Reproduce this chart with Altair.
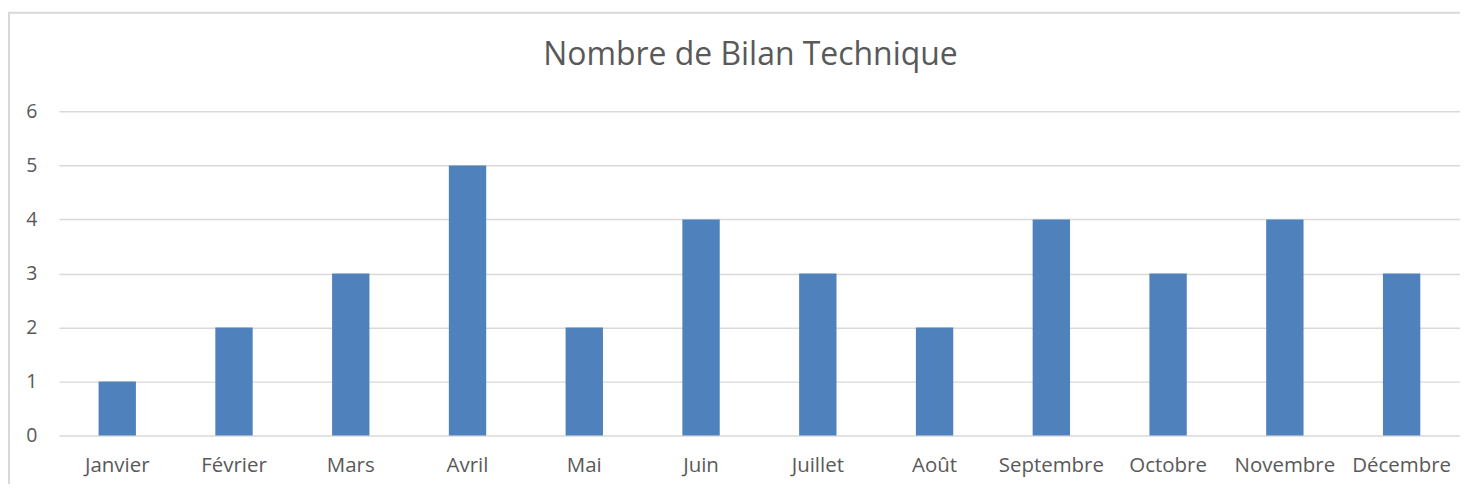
import altair as alt
import pandas as pd

months = ["Janvier", "Février", "Mars", "Avril", "Mai", "Juin", "Juillet",
          "Août", "Septembre", "Octobre", "Novembre", "Décembre"]
counts = [1, 2, 3, 5, 2, 4, 3, 2, 4, 3, 4, 3]
y_ticks = [0, 1, 2, 3, 4, 5, 6]

df = pd.DataFrame({"Mois": months, "Nombre": counts})

FONT = "Open Sans"
GRAY = "#595959"

bars = alt.Chart(df).mark_bar(color="#4F81BD").encode(
    x=alt.X("Mois:N", sort=months, title=None,
            scale=alt.Scale(paddingInner=0.68, paddingOuter=0.34),
            axis=alt.Axis(labelAngle=0, domain=False, ticks=False, labelPadding=20,
                          labelFont=FONT, labelFontSize=20.5, labelColor=GRAY)),
    y=alt.Y("Nombre:Q", title=None,
            scale=alt.Scale(domain=[0, 6], nice=False),
            axis=alt.Axis(values=y_ticks, domain=False, ticks=False, labelPadding=22,
                          labelFont=FONT, labelFontSize=19.5, labelColor=GRAY,
                          gridColor="#d9d9d9", gridWidth=1.5)),
)

frame_df = pd.DataFrame({"a": [0]})
frame = alt.Chart(frame_df).mark_rect(fill=None, fillOpacity=0, stroke="#d9d9d9",
                                      strokeWidth=2).encode(
    x=alt.value(-50), x2=alt.value(1420), y=alt.value(-99), y2=alt.value(400))

chart = alt.layer(bars, frame).properties(
    width=1405, height=325,
    title=alt.Title("Nombre de Bilan Technique", font=FONT, fontSize=32,
                    fontWeight="normal", color=GRAY, anchor="middle", dx=-9,
                    offset=0, dy=61),
    autosize=alt.AutoSizeParams(type="none"),
    padding={"left": 51, "top": 103, "right": 0, "bottom": 48},
).configure_view(stroke=None)

chart.save("out.html", embed_options={"renderer": "svg", "actions": False})
